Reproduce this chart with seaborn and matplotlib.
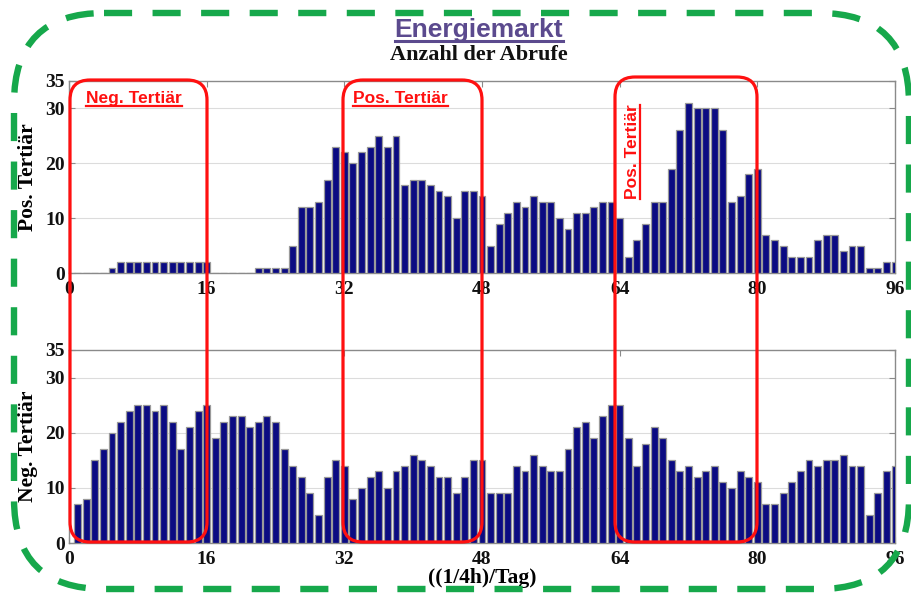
import matplotlib
matplotlib.use("Agg")
import matplotlib.pyplot as plt
import seaborn as sns
import pandas as pd
from matplotlib.patches import FancyBboxPatch
from matplotlib.lines import Line2D

# ---------------- data ----------------
slots = list(range(1, 97))
pos_tertiaer = [0, 0, 0, 0, 1, 2, 2, 2, 2, 2, 2, 2, 2, 2, 2, 2,
                0, 0, 0, 0, 0, 1, 1, 1, 1, 5, 12, 12, 13, 17, 23, 22,
                20, 22, 23, 25, 23, 25, 16, 17, 17, 16, 15, 14, 10, 15, 15, 14,
                5, 9, 11, 13, 12, 14, 13, 13, 10, 8, 11, 11, 12, 13, 13, 10,
                3, 6, 9, 13, 13, 19, 26, 31, 30, 30, 30, 26, 13, 14, 18, 19,
                7, 6, 5, 3, 3, 3, 6, 7, 7, 4, 5, 5, 1, 1, 2, 2]
neg_tertiaer = [7, 8, 15, 17, 20, 22, 24, 25, 25, 24, 25, 22, 17, 21, 24, 25,
                19, 22, 23, 23, 21, 22, 23, 22, 17, 14, 12, 9, 5, 12, 15, 14,
                8, 10, 12, 13, 10, 13, 14, 16, 15, 14, 12, 12, 9, 12, 15, 15,
                9, 9, 9, 14, 13, 16, 14, 13, 13, 17, 21, 22, 19, 23, 25, 25,
                19, 14, 18, 21, 19, 15, 13, 14, 12, 13, 14, 11, 10, 13, 12, 11,
                7, 7, 9, 11, 13, 15, 14, 15, 15, 16, 14, 14, 5, 9, 13, 14]
x_ticks = [0, 16, 32, 48, 64, 80, 96]
y_ticks = [0, 10, 20, 30, 35]
panel_labels = ["Pos. Tertiär", "Neg. Tertiär"]
x_label = "((1/4h)/Tag)"
title = "Energiemarkt"
subtitle = "Anzahl der Abrufe"
box_labels = ["Neg. Tertiär", "Pos. Tertiär", "Pos. Tertiär"]

df = pd.DataFrame({"slot": slots, "pos": pos_tertiaer, "neg": neg_tertiaer})

# ---------------- style ----------------
plt.rcParams["font.family"] = ["Liberation Serif", "DejaVu Serif"]
SERIF = "Liberation Serif"
SANS = "Liberation Sans"
NAVY = "#0b0b82"
EDGE = "#9a9a9a"
FRAME = "#8a8a8a"
RED = "#ff1010"
GREEN = "#16a84b"
PURPLE = "#5b4a8e"

W, H = 911, 594
fig = plt.figure(figsize=(W / 100, H / 100), dpi=100)
fig.patch.set_facecolor("white")

def px_axes(left, top, right, bottom):
    return fig.add_axes([left / W, 1 - bottom / H, (right - left) / W, (bottom - top) / H])

ax_top = px_axes(69, 81, 895, 273)
ax_bot = px_axes(69, 350, 895, 543)

for ax, col, lab in [(ax_top, "pos", panel_labels[0]), (ax_bot, "neg", panel_labels[1])]:
    sns.barplot(data=df, x="slot", y=col, native_scale=True, width=0.8,
                color=NAVY, saturation=1, edgecolor=EDGE, linewidth=0.9,
                errorbar=None, ax=ax, zorder=3)
    ax.set_xlim(0, 96)
    ax.set_ylim(0, 35)
    ax.set_xticks(x_ticks)
    ax.set_yticks(y_ticks)
    ax.set_xticklabels([str(t) for t in x_ticks], fontfamily=SERIF, fontweight="bold", fontsize=14)
    ax.set_yticklabels([str(t) for t in y_ticks], fontfamily=SERIF, fontweight="bold", fontsize=14)
    ax.tick_params(direction="in", length=4, width=0.8, color=FRAME, top=True, right=True,
                   labelcolor="#111111")
    ax.tick_params(axis="x", pad=6)
    ax.tick_params(axis="y", pad=3)
    for gy in [10, 20, 30]:
        ax.axhline(gy, color="#dcdcdc", lw=0.8, zorder=1)
    for s in ax.spines.values():
        s.set_color(FRAME)
        s.set_linewidth(1.0)
    ax.set_ylabel(lab, fontfamily=SERIF, fontweight="bold", fontsize=15.5, labelpad=5)
    ax.set_xlabel("")
    ax.set_facecolor("white")

ax_bot.set_xlabel(x_label, fontfamily=SERIF, fontweight="bold", fontsize=15.5, labelpad=0)

# ---------------- overlay (pixel coordinates) ----------------
ov = fig.add_axes([0, 0, 1, 1], zorder=10)
ov.set_xlim(0, W)
ov.set_ylim(H, 0)
ov.axis("off")
ov.patch.set_alpha(0)

# green dashed frame
green = FancyBboxPatch((14, 13), 895, 576, boxstyle="round,pad=0,rounding_size=90",
                       fill=False, ec=GREEN, lw=4.6, linestyle=(0, (4.4, 3.2)),
                       clip_on=False)
ov.add_patch(green)

# red rounded boxes
for (x0, y0, x1, y1) in [(70, 80, 207, 542), (343, 80, 482, 542), (615, 77, 757, 542)]:
    ov.add_patch(FancyBboxPatch((x0, y0), x1 - x0, y1 - y0,
                                boxstyle="round,pad=0,rounding_size=20",
                                fill=False, ec=RED, lw=2.3, clip_on=False))

t1 = ov.text(86, 103, box_labels[0], color=RED, fontfamily=SANS, fontweight="bold",
             fontsize=12.5, ha="left", va="baseline")
t2 = ov.text(353, 103, box_labels[1], color=RED, fontfamily=SANS, fontweight="bold",
             fontsize=12.5, ha="left", va="baseline")
t3 = ov.text(637, 152, box_labels[2], color=RED, fontfamily=SANS, fontweight="bold",
             fontsize=12.5, ha="center", va="baseline", rotation=90, rotation_mode="anchor")

tt = ov.text(479, 37, title, color=PURPLE, fontfamily=SANS, fontweight="bold",
             fontsize=19, ha="center", va="baseline")
ov.text(479, 60, subtitle, color="#111111", fontfamily=SERIF, fontweight="bold",
        fontsize=16, ha="center", va="baseline")

fig.canvas.draw()
renderer = fig.canvas.get_renderer()
inv = ov.transData.inverted()

def hunderline(t, ybase, color, lw):
    bb = t.get_window_extent(renderer)
    (xa, _), (xb, _) = inv.transform([[bb.x0, bb.y0], [bb.x1, bb.y1]])
    ov.add_line(Line2D([xa, xb], [ybase, ybase], color=color, lw=lw))

hunderline(t1, 105.5, RED, 1.6)
hunderline(t2, 105.5, RED, 1.6)
hunderline(tt, 40.5, PURPLE, 2.2)

bb = t3.get_window_extent(renderer)
(_, ya), (_, yb) = inv.transform([[bb.x0, bb.y0], [bb.x1, bb.y1]])
ov.add_line(Line2D([639.5, 639.5], [ya, yb], color=RED, lw=1.6))

fig.savefig("out.png", dpi=100)
